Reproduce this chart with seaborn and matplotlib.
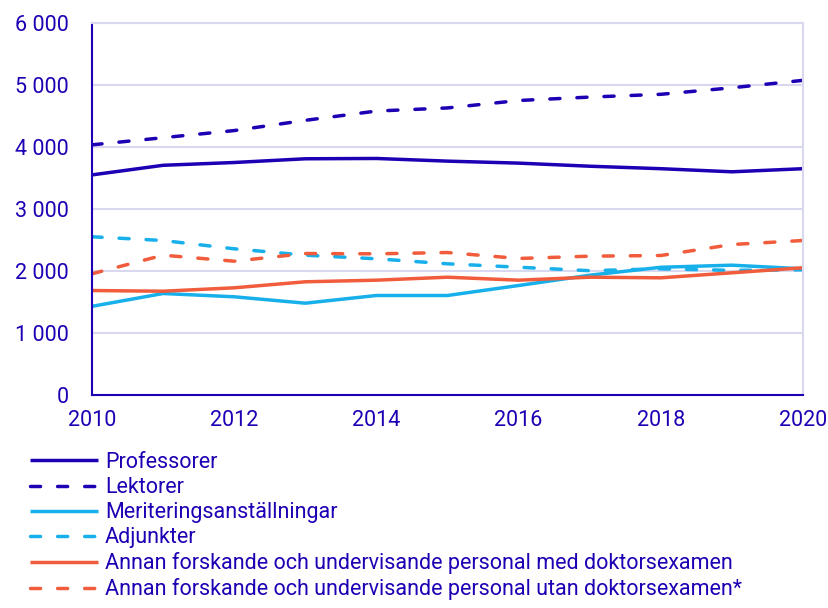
import matplotlib
matplotlib.use("Agg")
import matplotlib.pyplot as plt
import matplotlib.ticker as mticker
import seaborn as sns
import pandas as pd

sns.set_style("white")
plt.rcParams['font.family'] = ['Roboto', 'DejaVu Sans']

# ---- data ----
years = list(range(2010, 2021))
professorer = [3550, 3705, 3750, 3810, 3815, 3772, 3740, 3690, 3650, 3600, 3650]
lektorer = [4035, 4150, 4265, 4430, 4580, 4630, 4750, 4805, 4850, 4955, 5075]
meriterings = [1430, 1637, 1584, 1481, 1605, 1605, 1766, 1932, 2060, 2094, 2035]
adjunkter = [2552, 2492, 2358, 2255, 2197, 2116, 2061, 2005, 2035, 2010, 2020]
annan_med = [1685, 1674, 1729, 1826, 1852, 1900, 1852, 1900, 1890, 1971, 2052]
annan_utan = [1955, 2255, 2158, 2282, 2277, 2298, 2202, 2239, 2250, 2427, 2492]

labels = ["Professorer", "Lektorer", "Meriteringsanställningar", "Adjunkter",
          "Annan forskande och undervisande personal med doktorsexamen",
          "Annan forskande och undervisande personal utan doktorsexamen*"]
series = [professorer, lektorer, meriterings, adjunkter, annan_med, annan_utan]

DARK = "#1E00B4"
LIGHT = "#18B0EA"
RED = "#F05C3C"
GRID = "#D8D8F0"
colors = [DARK, DARK, LIGHT, LIGHT, RED, RED]
dashed = [False, True, False, True, False, True]

fig = plt.figure(figsize=(8.29, 6.08), dpi=100)
ax = fig.add_axes([92 / 829, 1 - 395 / 608, (803 - 92) / 829, (395 - 23) / 608])

for lab, vals, col, d in zip(labels, series, colors, dashed):
    df = pd.DataFrame({"year": years, "value": vals})
    ls = (0, (2.9, 4.9)) if d else "-"
    sns.lineplot(data=df, x="year", y="value", ax=ax, color=col, label=lab,
                 linewidth=2.5, linestyle=ls, dash_capstyle="round",
                 solid_capstyle="butt")

ax.set_xlim(2010, 2020)
ax.set_ylim(0, 6000)
ax.set_xticks(range(2010, 2021, 2))
ax.set_yticks(range(0, 6001, 1000))
ax.yaxis.set_major_formatter(mticker.FuncFormatter(lambda v, p: f"{int(v):,}".replace(",", " ")))
ax.set_xlabel("")
ax.set_ylabel("")

ax.grid(axis="y", color=GRID, linewidth=1.5)
ax.set_axisbelow(True)
for s in ["left", "bottom"]:
    ax.spines[s].set_color(DARK)
    ax.spines[s].set_linewidth(1.5)
for s in ["right", "top"]:
    ax.spines[s].set_color(GRID)
    ax.spines[s].set_linewidth(1.5)

ax.tick_params(axis="both", colors=DARK, labelcolor=DARK, labelsize=15.5,
               length=6, width=1.5, direction="out")
ax.tick_params(axis="x", pad=4.5)
ax.tick_params(axis="y", pad=10.5)

handles, labs = ax.get_legend_handles_labels()
ax.get_legend().remove()
leg = fig.legend(handles, labs, loc="upper left", bbox_to_anchor=(30 / 829, 1 - 452 / 608),
                 frameon=False, fontsize=15.5, handlelength=3.15, handletextpad=0.33,
                 labelspacing=0.19, borderaxespad=0, borderpad=0)
for t in leg.get_texts():
    t.set_color(DARK)

fig.savefig("out.png", dpi=100)
